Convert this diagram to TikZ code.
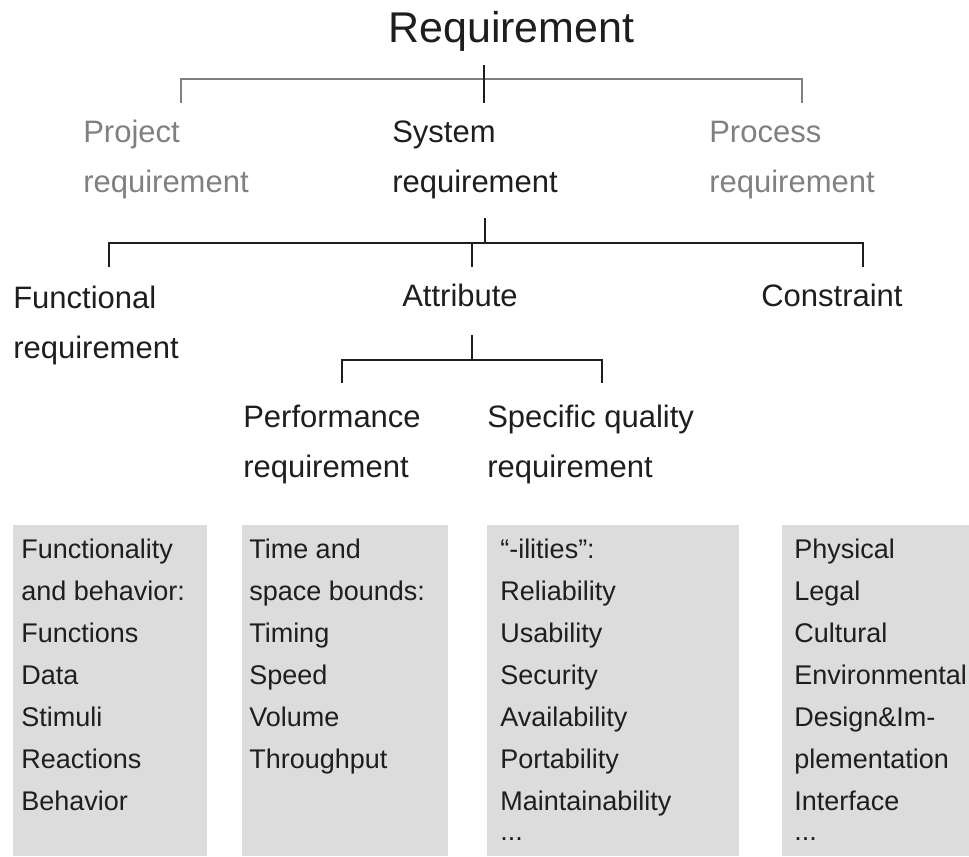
\documentclass[tikz,border=0pt]{standalone}
\usepackage{fontspec}
\setmainfont{Liberation Sans}
\usetikzlibrary{positioning}
\definecolor{inkblack}{HTML}{1E1E1E}
\definecolor{softgray}{HTML}{808080}
\definecolor{panelgray}{HTML}{DCDCDC}

\tikzset{
  reqtitle/.style={anchor=base west, inner sep=0pt, text=inkblack, font=\fontsize{32.25}{38}\selectfont},
  cat/.style={anchor=base west, inner sep=0pt, align=left, text=inkblack, font=\fontsize{23.25}{37.5}\selectfont},
  faded/.style={cat, text=softgray},
  listtext/.style={anchor=base west, inner sep=0pt, align=left, text=inkblack, font=\fontsize{20.25}{31.5}\selectfont},
  link/.style={draw=inkblack, line width=1.5pt},
  fadedlink/.style={draw=softgray, line width=1.5pt}
}

\begin{document}
\begin{tikzpicture}[x=0.75pt, y=-0.75pt]
    \useasboundingbox (0,0) rectangle (969,856);

    % Draw the top node and its three kinds (placed at their last baseline)
    \node[reqtitle] (req) at (388,43) {Requirement};
    \node[faded] (prj) at (83,192) {Project\\requirement};
    \node[cat] (sys) at (392,192) {System\\requirement};
    \node[faded] (prc) at (709,192) {Process\\requirement};

    % Draw the kinds of system requirement
    \node[cat] (fnc) at (13,358) {Functional\\requirement};
    \node[cat] (att) at (402,306) {Attribute};
    \node[cat] (cns) at (761,306) {Constraint};

    % Draw the kinds of attribute
    \node[cat] (perf) at (243,477) {Performance\\requirement};
    \node[cat] (spec) at (487,477) {Specific quality\\requirement};

    % Points where the connectors start, meet and end
    \coordinate (reqstem) at (484,65);
    \coordinate (reqjoin) at (484,79);
    \coordinate (prjtip) at (181,103);
    \coordinate (systip) at (484,103);
    \coordinate (prctip) at (802,103);
    \coordinate (sysstem) at (485,218);
    \coordinate (sysjoin) at (485,243);
    \coordinate (fnctip) at (109,267);
    \coordinate (attjoin) at (472,243);
    \coordinate (atttip) at (472,267);
    \coordinate (cnstip) at (863,267);
    \coordinate (attstem) at (472,335);
    \coordinate (attbar) at (472,360);
    \coordinate (perftip) at (342,383);
    \coordinate (spectip) at (602,383);

    % Draw the connectors
    \draw[fadedlink] (prjtip) |- (reqjoin) -| (prctip); % Project and Process
    \draw[link] (reqstem) -- (systip);                   % System
    \draw[link] (sysstem) -- (sysjoin);
    \draw[link] (fnctip) |- (sysjoin) -| (cnstip);       % Functional and Constraint
    \draw[link] (attjoin) -- (atttip);                   % Attribute
    \draw[link] (attstem) -- (attbar);
    \draw[link] (perftip) |- (attbar) -| (spectip);      % Performance and Specific quality

    % Draw the grey panels with their lists
    \fill[panelgray] (13,525) rectangle (207,856);
    \fill[panelgray] (242,525) rectangle (448,856);
    \fill[panelgray] (487,525) rectangle (739,856);
    \fill[panelgray] (782,525) rectangle (969,856);

    \node[listtext] (fnclist) at (21,810) {Functionality\\and behavior:\\Functions\\Data\\Stimuli\\Reactions\\Behavior};
    \node[listtext] (perflist) at (249,768) {Time and\\space bounds:\\Timing\\Speed\\Volume\\Throughput};
    \node[listtext] (speclist) at (500,840) {“-ilities”:\\Reliability\\Usability\\Security\\Availability\\Portability\\Maintainability\\[-9pt]...};
    \node[listtext] (cnslist) at (794,840) {Physical\\Legal\\Cultural\\Environmental\\Design\&Im-\\plementation\\Interface\\[-9pt]...};
\end{tikzpicture}
\end{document}
